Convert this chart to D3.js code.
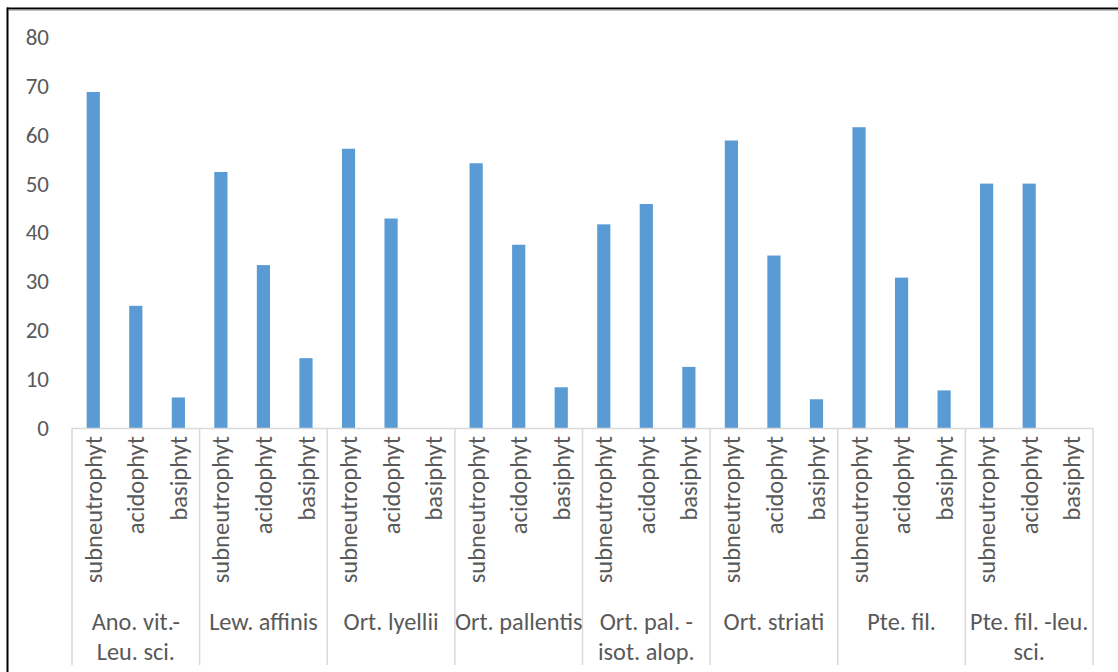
<!DOCTYPE html>
<html>
<head>
<meta charset="utf-8">
<script src="https://cdn.jsdelivr.net/npm/d3@7/dist/d3.min.js"></script>
<style>
  html, body { margin: 0; padding: 0; background: #fff; }
  svg { display: block; }
  text { font-family: Calibri, Carlito, Lato, sans-serif; fill: #595959; }
</style>
</head>
<body>
<svg id="chart" width="1118" height="672"></svg>
<script>
// Share of ecological groups (% of species) per moss community
const groupLabels = [
  ["Ano. vit.-", "Leu. sci."],
  ["Lew. affinis"],
  ["Ort. lyellii"],
  ["Ort. pallentis"],
  ["Ort. pal. -", "isot. alop."],
  ["Ort. striati"],
  ["Pte. fil."],
  ["Pte. fil. -leu.", "sci."]
];
const types = ["subneutrophyt", "acidophyt", "basiphyt"];
const subneutrophyt = [68.75, 52.38, 57.14, 54.17, 41.67, 58.82, 61.54, 50];
const acidophyt     = [25, 33.33, 42.86, 37.5, 45.83, 35.29, 30.77, 50];
const basiphyt      = [6.25, 14.29, 0, 8.33, 12.5, 5.88, 7.69, 0];
const yTicks = [0, 10, 20, 30, 40, 50, 60, 70, 80];

const seriesByType = { subneutrophyt, acidophyt, basiphyt };

const svg = d3.select("#chart");

// frame around the chart
svg.append("line").attr("x1", 7).attr("x2", 1118).attr("y1", 8.5).attr("y2", 8.5)
  .attr("stroke", "#000").attr("stroke-width", 2);
svg.append("line").attr("x1", 9).attr("x2", 1118).attr("y1", 10.2).attr("y2", 10.2)
  .attr("stroke", "#a6a6a6").attr("stroke-width", 1);
svg.append("line").attr("x1", 7.5).attr("x2", 7.5).attr("y1", 7.5).attr("y2", 672)
  .attr("stroke", "#000").attr("stroke-width", 2);

const plot = { left: 72, right: 1093, top: 37, bottom: 428 };

const x0 = d3.scaleBand()
  .domain(d3.range(groupLabels.length))
  .range([plot.left, plot.right])
  .padding(0);

const x1 = d3.scaleBand()
  .domain(types)
  .range([0, x0.bandwidth()])
  .paddingInner(0.69)
  .paddingOuter(0.345);

const y = d3.scaleLinear().domain([0, 80]).range([plot.bottom, plot.top]);

// value axis labels (no axis line, no gridlines)
const yAxis = d3.axisLeft(y).tickValues(yTicks).tickSize(0).tickPadding(0).tickFormat(d3.format("d"));
const yg = svg.append("g").attr("transform", "translate(49,0)").call(yAxis);
yg.select(".domain").remove();
yg.selectAll("text")
  .style("font-family", "Calibri, Carlito, Lato, sans-serif")
  .style("font-size", "23px")
  .attr("fill", "#595959");

// flattened rows
const rows = [];
groupLabels.forEach((g, gi) => {
  types.forEach(t => rows.push({ gi, type: t, value: seriesByType[t][gi] }));
});

// bars
svg.append("g").selectAll("rect")
  .data(rows)
  .join("rect")
  .attr("x", d => x0(d.gi) + x1(d.type))
  .attr("width", x1.bandwidth())
  .attr("y", d => y(d.value))
  .attr("height", d => y(0) - y(d.value))
  .attr("fill", "#5b9bd5");

// category axis line
svg.append("line")
  .attr("x1", plot.left).attr("x2", plot.right)
  .attr("y1", plot.bottom + 0.5).attr("y2", plot.bottom + 0.5)
  .attr("stroke", "#d9d9d9").attr("stroke-width", 1.5);

// group separators running through the label rows
const seps = d3.range(groupLabels.length + 1).map(i => i < groupLabels.length ? x0(i) : plot.right);
svg.append("g").selectAll("line")
  .data(seps)
  .join("line")
  .attr("x1", d => d).attr("x2", d => d)
  .attr("y1", plot.bottom).attr("y2", 665)
  .attr("stroke", "#d9d9d9").attr("stroke-width", 1.5);

// rotated type labels under each bar
svg.append("g").selectAll("text")
  .data(rows)
  .join("text")
  .attr("transform", d => `translate(${x0(d.gi) + x1(d.type) + x1.bandwidth() / 2},436) rotate(-90)`)
  .attr("text-anchor", "end")
  .attr("dy", "0.35em")
  .style("font-size", "24.5px")
  .text(d => d.type);

// community labels
const gl = svg.append("g").selectAll("text")
  .data(groupLabels)
  .join("text")
  .attr("text-anchor", "middle")
  .style("font-size", "24.3px");
gl.each(function (lines, gi) {
  const t = d3.select(this);
  lines.forEach((ln, li) => {
    t.append("tspan")
      .attr("x", x0(gi) + x0.bandwidth() / 2)
      .attr("y", 629.5 + li * 30.5)
      .text(ln);
  });
});
</script>
</body>
</html>
